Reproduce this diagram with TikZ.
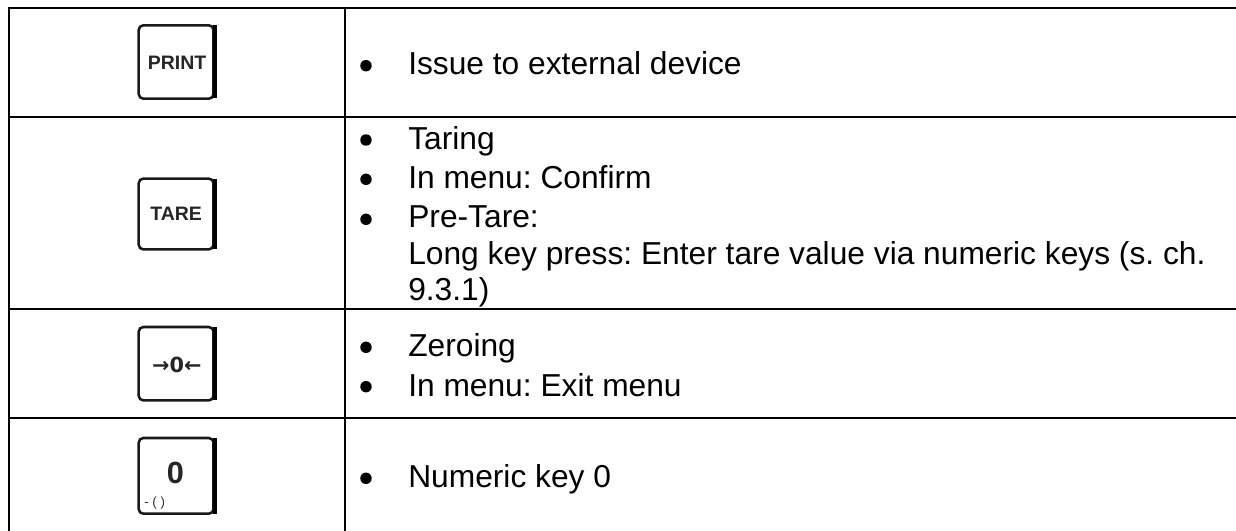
\documentclass[tikz,border=0pt]{standalone}
\usepackage{fontspec}
\setmainfont{Liberation Sans}
\newfontfamily\symfont{DejaVu Sans}
\begin{document}
\begin{tikzpicture}[x=0.75pt,y=-0.75pt,
  rule/.style={line width=1.5pt,black,line cap=rect},
  keybox/.style={draw=black!90,line width=1.9pt,rounded corners=3.5pt,fill=white},
  keyedge/.style={fill=black},
  body/.style={anchor=base west,inner sep=0pt,font=\fontsize{23.8pt}{27pt}\selectfont\frenchspacing,text=black},
  bullet/.style={circle,fill=black,inner sep=0pt,minimum size=8.6pt},
  keylabel/.style={inner sep=0pt,font=\bfseries\fontsize{14.6pt}{16pt}\selectfont,text=black!85}]
\useasboundingbox (0,0) rectangle (1236,531);
\fill[white] (0,0) rectangle (1236,531);
% grid
\coordinate (tl) at (9,8);\coordinate (tr) at (1236,8);
\coordinate (bl) at (9,531);
\coordinate (mt) at (345.2,8);\coordinate (mb) at (345.2,531);
\coordinate (r1l) at (9,117);\coordinate (r1r) at (1236,117);
\coordinate (r2l) at (9,309);\coordinate (r2r) at (1236,309);
\coordinate (r3l) at (9,417.7);\coordinate (r3r) at (1236,417.7);
\draw[rule] (bl) -- (tl) -- (tr);
\draw[rule] (mt) -- (mb);
\draw[rule] (r1l) -- (r1r);
\draw[rule] (r2l) -- (r2r);
\draw[rule] (r3l) -- (r3r);
% keys
\foreach \t/\b in {25.3/98.7,178.6/249.4,327/400.4,438/513.7}{
  \draw[keybox] (138.7,\t) rectangle (213.5,\b);
  \fill[keyedge] (212.6,\t+0.2) rectangle (216.7,\b-0.2);
}
\node[keylabel] (kp) at (177,62.5) {PRINT};
\node[keylabel] (kt) at (176.2,213.7) {TARE};
\node[inner sep=0pt,font=\symfont\bfseries\fontsize{15.6pt}{16pt}\selectfont,text=black!85] (kz) at (176.8,364.5) {→0←};
\node[inner sep=0pt,font=\bfseries\fontsize{23pt}{24pt}\selectfont,text=black!85] (k0) at (175.5,473) {0};
\node[inner sep=0pt,font=\fontsize{10pt}{10pt}\selectfont,text=black!80,anchor=base west] (km) at (144,506) {- ( )};
% bullets
\foreach \y/\n in {65.7/a,140/b,179.3/c,219.3/d,347.3/e,386.7/f,478.3/g}{
  \node[bullet] (b\n) at (366,\y) {};
}
% text
\node[body] (t1) at (408,75) {Issue to external device};
\node[body] (t2) at (408,149.3) {Taring};
\node[body] (t3) at (408,188.3) {In menu: Confirm};
\node[body] (t4) at (408,227.3) {Pre-Tare:};
\node[body] (t5) at (408,264.3) {Long key press: Enter tare value via numeric keys (s. ch.};
\node[body] (t6) at (408,300.7) {9.3.1)};
\node[body] (t7) at (408,356.7) {Zeroing};
\node[body] (t8) at (408,396) {In menu: Exit menu};
\node[body] (t9) at (408,487.3) {Numeric key 0};
\end{tikzpicture}
\end{document}
